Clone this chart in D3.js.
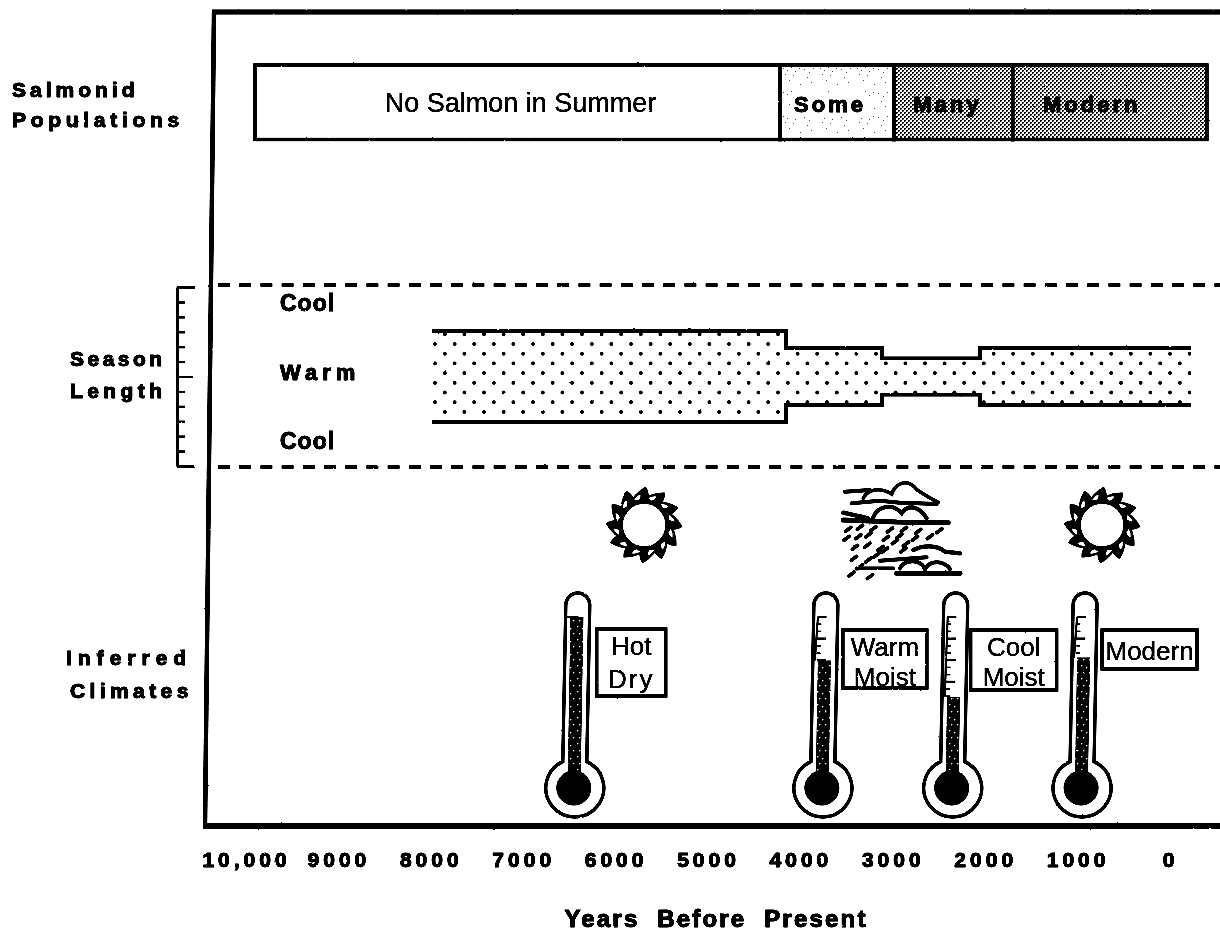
<!DOCTYPE html>
<html>
<head>
<meta charset="utf-8">
<script src="https://cdn.jsdelivr.net/npm/d3@7"></script>
<style>
body { margin: 0; background: #fff; }
svg { display: block; }
text { font-family: "Liberation Sans", Arial, sans-serif; fill: #000; }
</style>
</head>
<body>
<div id="chart"></div>
<script>
/* chart data */
var yearTicks = [10000, 9000, 8000, 7000, 6000, 5000, 4000, 3000, 2000, 1000, 0];
var yearLabels = ["10,000", "9000", "8000", "7000", "6000", "5000", "4000", "3000", "2000", "1000", "0"];

var salmonNames = ["No Salmon in Summer", "Some", "Many", "Modern"];
var salmonStarts = [9880, 4200, 2965, 1680];
var salmonEnds = [4200, 2965, 1680, -420];

var seasonStarts = [7965, 4134, 3095, 2035];
var seasonEnds = [4134, 3095, 2035, -250];
var seasonHalfWidths = [3.05, 1.9, 1.22, 1.9];
var seasonTicks = [-6, -5, -4, -3, -2, -1, 0, 1, 2, 3, 4, 5, 6];

var climateYears = [6420, 3735, 2330, 930];
var climateLevels = [100, 70, 45, 72];
var climateNames = [["Hot", "Dry"], ["Warm", "Moist"], ["Cool", "Moist"], ["Modern"]];

var sunYears = [5670, 713];
var rainYears = [2890];

var w = 1220, h = 931;

var x = d3.scaleLinear().domain([10000, 0]).range([244, 1168]);
var ySeason = d3.scaleLinear().domain([-6, 6]).range([466, 287]);
var yLevel = d3.scaleLinear().domain([0, 100]).range([762, 617]);

var svg = d3.select("#chart").append("svg")
	.attr("width", w)
	.attr("height", h);

var defs = svg.append("defs");

// scanned look: wobble the edges, blur a little, push the contrast back up
var rough = defs.append("filter").attr("id", "rough")
	.attr("x", 0).attr("y", 0).attr("width", w).attr("height", h)
	.attr("filterUnits", "userSpaceOnUse")
	.attr("color-interpolation-filters", "sRGB");
rough.append("feTurbulence").attr("type", "fractalNoise").attr("baseFrequency", 0.25)
	.attr("numOctaves", 2).attr("seed", 4).attr("result", "n");
rough.append("feDisplacementMap").attr("in", "SourceGraphic").attr("in2", "n")
	.attr("scale", 1.6).attr("xChannelSelector", "R").attr("yChannelSelector", "G").attr("result", "d");
rough.append("feGaussianBlur").attr("in", "d").attr("stdDeviation", 0.6).attr("result", "b");
var contrast = rough.append("feComponentTransfer").attr("in", "b");
["feFuncR", "feFuncG", "feFuncB"].forEach(function(f) {
	contrast.append(f).attr("type", "linear").attr("slope", 2.6).attr("intercept", -0.95);
});

// dotted fill of the season band
var dots = defs.append("pattern").attr("id", "dots").attr("patternUnits", "userSpaceOnUse")
	.attr("x", 435).attr("y", 344).attr("width", 19.6).attr("height", 19.4);
dots.append("circle").attr("cx", 0).attr("cy", 0).attr("r", 1.9);
dots.append("circle").attr("cx", 19.6).attr("cy", 0).attr("r", 1.9);
dots.append("circle").attr("cx", 0).attr("cy", 19.4).attr("r", 1.9);
dots.append("circle").attr("cx", 19.6).attr("cy", 19.4).attr("r", 1.9);
dots.append("circle").attr("cx", 9.8).attr("cy", 9.7).attr("r", 1.9);

// dark halftone for Many and Modern
var dark = defs.append("pattern").attr("id", "dark").attr("patternUnits", "userSpaceOnUse")
	.attr("width", 4).attr("height", 4);
dark.append("rect").attr("width", 4).attr("height", 4).attr("fill", "#fff");
dark.append("rect").attr("width", 1.7).attr("height", 1.7).attr("fill", "#222");
dark.append("rect").attr("x", 2).attr("y", 2).attr("width", 1.7).attr("height", 1.7).attr("fill", "#222");

// light stipple for Some
var light = defs.append("pattern").attr("id", "light").attr("patternUnits", "userSpaceOnUse")
	.attr("x", 780).attr("y", 65).attr("width", 37).attr("height", 24);
[[3, 3], [7, 5], [11, 2], [15, 6], [19, 3], [5, 9], [13, 10], [24, 4], [29, 7], [33, 3], [27, 12], [9, 15], [31, 17], [20, 19]]
	.forEach(function(d) {
		light.append("rect").attr("x", d[0]).attr("y", d[1]).attr("width", 1.4).attr("height", 1.4).attr("fill", "#777");
	});

// mercury column
var mercury = defs.append("pattern").attr("id", "mercury").attr("patternUnits", "userSpaceOnUse")
	.attr("width", 12).attr("height", 13);
mercury.append("rect").attr("width", 12).attr("height", 13).attr("fill", "#000");
[[1, 2], [6, 4], [9, 9], [3, 9]].forEach(function(d) {
	mercury.append("rect").attr("x", d[0]).attr("y", d[1]).attr("width", 1.5).attr("height", 1.5).attr("fill", "#fff");
});

var g = svg.append("g").attr("filter", "url(#rough)");
g.append("rect").attr("width", w).attr("height", h).attr("fill", "#fff");

renderFrame(g);
renderSalmon(g);
renderSeason(g);
renderClimates(g);
renderAxis(g);
renderSideLabels(g);

function sideText(sel, px, py, s, spacing, size) {
	return sel.append("text")
		.attr("x", px)
		.attr("y", py)
		.attr("font-size", size + "px")
		.attr("font-weight", "bold")
		.attr("letter-spacing", spacing)
		.attr("stroke", "#000")
		.attr("stroke-width", 1)
		.text(s);
}

function renderFrame(g) {
	g.append("line").attr("x1", 214).attr("y1", 10).attr("x2", 205).attr("y2", 828)
		.attr("stroke", "#000").attr("stroke-width", 4.5);
	g.append("line").attr("x1", 212).attr("y1", 12).attr("x2", w).attr("y2", 12)
		.attr("stroke", "#000").attr("stroke-width", 5);
	g.append("line").attr("x1", 203).attr("y1", 826).attr("x2", w).attr("y2", 826)
		.attr("stroke", "#000").attr("stroke-width", 5.5);
	[285, 467].forEach(function(py) {
		g.append("line").attr("x1", 218).attr("y1", py).attr("x2", w).attr("y2", py)
			.attr("stroke", "#000").attr("stroke-width", 3.6).attr("stroke-dasharray", "12 9.2");
	});
}

function renderSalmon(g) {
	var fills = ["#fff", "url(#light)", "url(#dark)", "url(#dark)"];
	// bold names sit left of the middle of their bars
	var nudge = [3, -7, -6, -18];
	var top = 65, bottom = 139.5;

	var bars = g.selectAll(".salmon").data(salmonNames).enter().append("g").attr("class", "salmon");
	bars.append("rect")
		.attr("x", function(d, i) { return x(salmonStarts[i]); })
		.attr("y", top)
		.attr("width", function(d, i) { return x(salmonEnds[i]) - x(salmonStarts[i]); })
		.attr("height", bottom - top)
		.attr("fill", function(d, i) { return fills[i]; })
		.attr("stroke", "#000")
		.attr("stroke-width", 3.6);

	bars.each(function(d, i) {
		var cx = (x(salmonStarts[i]) + x(salmonEnds[i])) / 2 + nudge[i];
		if (i == 0) {
			d3.select(this).append("text")
				.attr("x", cx).attr("y", 112)
				.attr("font-size", "27px")
				.attr("stroke", "#000")
				.attr("stroke-width", 0.3)
				.style("text-anchor", "middle")
				.text(d);
		} else {
			var t = sideText(d3.select(this), cx, 112, d, 3, 22).style("text-anchor", "middle");
			if (i == 1) {
				// Some has a pale halo in the scan
				var b = t.node().getBBox();
				d3.select(this).insert("rect", "text")
					.attr("x", b.x - 3).attr("y", b.y).attr("width", b.width + 6).attr("height", b.height)
					.attr("fill", "#fff");
			}
		}
	});
}

function renderSeason(g) {
	var topPts = [], botPts = [];
	seasonStarts.forEach(function(s, i) {
		topPts.push([x(s), ySeason(seasonHalfWidths[i])], [x(seasonEnds[i]), ySeason(seasonHalfWidths[i])]);
		botPts.push([x(s), ySeason(-seasonHalfWidths[i])], [x(seasonEnds[i]), ySeason(-seasonHalfWidths[i])]);
	});
	var line = d3.line();

	g.append("path")
		.attr("d", line(topPts.concat(botPts.slice().reverse())) + "Z")
		.attr("fill", "url(#dots)");
	[topPts, botPts].forEach(function(pts) {
		g.append("path").attr("d", line(pts)).attr("fill", "none")
			.attr("stroke", "#000").attr("stroke-width", 3.8);
	});

	// the bracket is a plain axis
	var axis = d3.axisRight(ySeason).tickValues(seasonTicks).tickSize(8).tickFormat("").tickSizeOuter(0);
	var a = g.append("g").attr("transform", "translate(177,0)").call(axis);
	a.select(".domain").attr("stroke", "#000").attr("stroke-width", 2.8);
	a.selectAll(".tick line")
		.attr("stroke", "#000")
		.attr("stroke-width", 2.4)
		.attr("x2", function(d) { return Math.abs(d) == 6 ? 18 : (d == 0 ? 16 : 8); });

	sideText(g, 280, 311, "Cool", 1, 23);
	sideText(g, 280, 380, "Warm", 5, 22);
	sideText(g, 280, 449, "Cool", 1, 23);
}

function renderClimates(g) {
	var cy = 788, r = 29, hw = 12, topY = 593, lean = 3;
	var dy = Math.sqrt(r * r - hw * hw);
	var boxes = [[22, 629, 69, 67], [20, 630, 84, 58], [18, 630, 86, 60], [20, 630, 95, 39]];

	climateYears.forEach(function(yr, i) {
		var cx = x(yr);
		var th = g.append("g");
		th.append("path")
			.attr("d", "M" + (cx - hw) + "," + (cy - dy)
				+ "L" + (cx + lean - hw) + "," + (topY + hw)
				+ "A" + hw + "," + hw + " 0 0 1 " + (cx + lean + hw) + "," + (topY + hw)
				+ "L" + (cx + hw) + "," + (cy - dy)
				+ "A" + r + "," + r + " 0 1 1 " + (cx - hw) + "," + (cy - dy) + "Z")
			.attr("fill", "#fff").attr("stroke", "#000").attr("stroke-width", 3.4);

		var level = yLevel(climateLevels[i]);
		var shift = lean * (cy - level) / (cy - topY);
		th.append("path")
			.attr("d", d3.line()([[cx - 7, cy - 16], [cx - 7 + shift, level], [cx + 6 + shift, level], [cx + 6, cy - 16]]) + "Z")
			.attr("fill", "url(#mercury)");

		// graduation marks above the column
		d3.range(0, 15).forEach(function(k) {
			var py = 617 + k * 7.2;
			if (py > level + 2) return;
			var sx = lean * (cy - py) / (cy - topY);
			th.append("line")
				.attr("x1", cx - 8 + sx).attr("x2", cx - 8 + sx + (k % 3 == 0 ? 9 : 4))
				.attr("y1", py).attr("y2", py)
				.attr("stroke", "#000").attr("stroke-width", k % 3 == 0 ? 2.2 : 1.6);
		});
		th.append("line")
			.attr("x1", cx - 8 + lean).attr("x2", cx - 8)
			.attr("y1", 617).attr("y2", level)
			.attr("stroke", "#000").attr("stroke-width", 2);

		th.append("circle").attr("cx", cx - 1).attr("cy", cy).attr("r", 17.5).attr("fill", "#000");

		// name box beside the thermometer
		var b = boxes[i];
		th.append("rect")
			.attr("x", cx + b[0]).attr("y", b[1]).attr("width", b[2]).attr("height", b[3])
			.attr("fill", "#fff").attr("stroke", "#000").attr("stroke-width", 3.4);
		climateNames[i].forEach(function(s, k) {
			var baseY = climateNames[i].length == 1 ? b[1] + 30 : b[1] + 26 + k * (b[3] > 62 ? 33 : 29.5);
			th.append("text")
				.attr("x", cx + b[0] + b[2] / 2)
				.attr("y", baseY)
				.attr("font-size", "26px")
				.attr("letter-spacing", s == "Dry" ? 2 : 0)
				.attr("stroke", "#000")
				.attr("stroke-width", 0.3)
				.style("text-anchor", "middle")
				.text(s);
		});
	});

	sunYears.forEach(function(yr) { drawSun(g, x(yr), 525); });
	rainYears.forEach(function(yr) { drawRain(g, x(yr), 470); });
}

function drawSun(g, cx, cy) {
	var s = g.append("g").attr("transform", "translate(" + cx + "," + cy + ")");
	d3.range(0, 12).forEach(function(k) {
		var ray = s.append("g").attr("transform", "rotate(" + (k * 30 + 8) + ")");
		ray.append("path").attr("d", "M-11,-21 Q2,-34 16,-35 Q18,-27 11,-18 Z").attr("fill", "#000");
		ray.append("path").attr("d", "M0,-27 Q4,-30 8,-30 Q8,-27 4,-25 Z").attr("fill", "#fff");
	});
	s.append("circle").attr("r", 23).attr("fill", "#fff").attr("stroke", "#000").attr("stroke-width", 3.5);
}

function drawRain(g, cx, top) {
	// drawn at three times the size, then scaled down
	var r = g.append("g")
		.attr("transform", "translate(" + (cx - 121) + "," + top + ") scale(0.3333)")
		.attr("fill", "none").attr("stroke", "#000").attr("stroke-linecap", "round");
	var lines = [
		["M195,65 L270,60", 12],
		["M250,85 C262,58 300,50 335,72 C350,35 385,25 412,60 C430,72 450,85 475,97", 11],
		["M215,100 L300,92 L360,98 L410,100 L470,102", 12],
		["M280,142 C295,105 340,100 365,130 C385,100 420,110 440,145", 12],
		["M190,128 L265,145", 13],
		["M190,150 L350,156 L505,158", 15],
		["M400,240 C430,225 470,225 495,245 L540,250", 13],
		["M300,272 L440,262", 12],
		["M360,295 C375,268 420,265 435,297 C450,270 490,270 510,297", 12],
		["M350,310 L540,310", 15],
		["M230,295 L340,295", 11]
	];
	lines.forEach(function(d) {
		r.append("path").attr("d", d[0]).attr("stroke-width", d[1]);
	});
	var drops = [[205, 178], [240, 172], [280, 176], [330, 180], [372, 178], [415, 184], [478, 182],
		[200, 205], [235, 200], [265, 195], [318, 205], [358, 198], [405, 205], [450, 200],
		[225, 232], [262, 226], [302, 235], [345, 215], [378, 222], [370, 240],
		[222, 265], [265, 270], [290, 255], [315, 240], [240, 290], [215, 312], [270, 320]];
	drops.forEach(function(d) {
		r.append("line")
			.attr("x1", d[0] - 8).attr("y1", d[1] + 6)
			.attr("x2", d[0] + 8).attr("y2", d[1] - 6)
			.attr("stroke-width", 11);
	});
}

function renderAxis(g) {
	var axis = d3.axisBottom(x)
		.tickValues(yearTicks)
		.tickSize(0)
		.tickPadding(0)
		.tickFormat(function(d, i) { return yearLabels[i]; });
	var a = g.append("g").attr("transform", "translate(0,852)").call(axis);
	a.select(".domain").remove();
	a.selectAll("text")
		.attr("font-size", "21px")
		.attr("font-family", null)
		.attr("font-weight", "bold")
		.attr("letter-spacing", 4)
		.attr("dx", 2)
		.attr("stroke", "#000")
		.attr("stroke-width", 1);

	sideText(g, 716, 927, "Years  Before  Present", 2.2, 24)
		.style("text-anchor", "middle")
		.style("white-space", "pre");
}

function renderSideLabels(g) {
	sideText(g, 12, 97, "Salmonid", 4, 21);
	sideText(g, 12, 127, "Populations", 4.7, 21);
	sideText(g, 70, 366, "Season", 3.5, 21);
	sideText(g, 70, 398, "Length", 4.4, 21);
	sideText(g, 66, 665, "Inferred", 6, 21);
	sideText(g, 70, 698, "Climates", 4.4, 21);
}
</script>
</body>
</html>
